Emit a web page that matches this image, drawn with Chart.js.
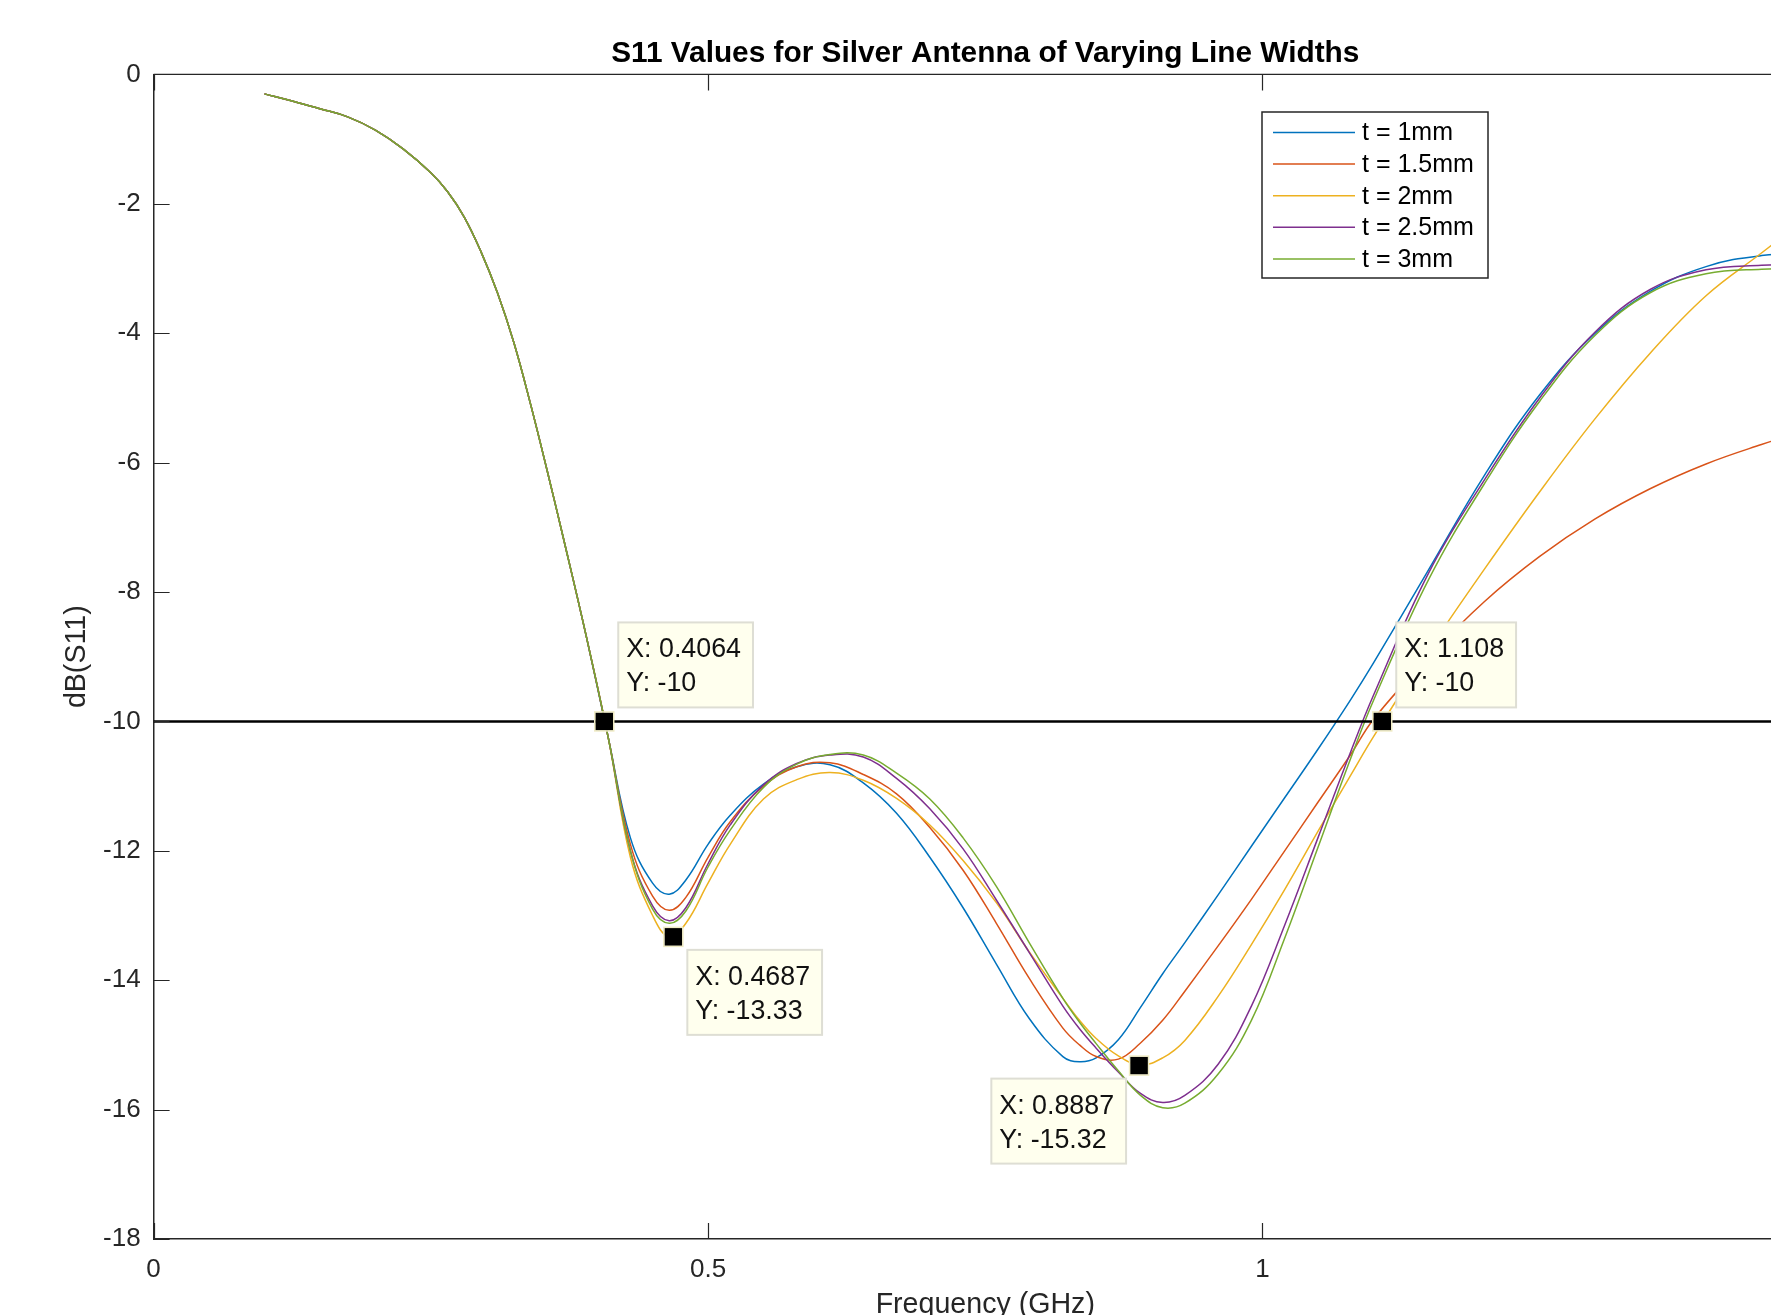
<!DOCTYPE html>
<html>
<head>
<meta charset="utf-8">
<title>S11 Values for Silver Antenna of Varying Line Widths</title>
<script src="https://cdn.jsdelivr.net/npm/chart.js@4.4.0/dist/chart.umd.min.js"></script>
<style>
  html, body { margin: 0; padding: 0; overflow: hidden; background: #fff; }
  #wrap { position: absolute; left: 0; top: 0; width: 1850px; height: 1340px; }
</style>
</head>
<body>
<div id="wrap"><canvas id="s11Chart" width="1850" height="1340"></canvas></div>
<script>
// frequenze (GHz) e valori S11 (dB)
const freq = [0.10, 0.125, 0.15, 0.175, 0.20, 0.225, 0.25, 0.265, 0.28, 0.295,
              0.31, 0.325, 0.34, 0.355, 0.37, 0.39, 0.41,
              0.43, 0.45, 0.465, 0.48, 0.50, 0.52, 0.55, 0.58, 0.61, 0.64,
              0.67, 0.70, 0.73, 0.76, 0.79, 0.82, 0.835, 0.85, 0.87, 0.89,
              0.91, 0.93, 0.96, 0.99, 1.02, 1.05, 1.08, 1.10, 1.15, 1.20,
              1.25, 1.30, 1.35, 1.40, 1.45, 1.50];

const s11_1mm = [-0.30, -0.41, -0.53, -0.655, -0.86, -1.15, -1.52, -1.81, -2.20, -2.73,
                 -3.37, -4.15, -5.10, -6.13, -7.20, -8.67, -10.25,
                 -11.80, -12.50, -12.67, -12.45, -11.90, -11.45, -10.97, -10.70, -10.67, -10.95,
                 -11.42, -12.10, -12.88, -13.75, -14.60, -15.18, -15.26, -15.20, -14.92, -14.42,
                 -13.90, -13.42, -12.68, -11.93, -11.18, -10.43, -9.65, -9.10, -7.65, -6.20,
                 -4.95, -4.00, -3.35, -2.97, -2.80, -2.76];

const s11_1p5mm = [-0.30, -0.41, -0.53, -0.655, -0.86, -1.15, -1.52, -1.81, -2.20, -2.73,
                   -3.37, -4.15, -5.10, -6.13, -7.20, -8.67, -10.25,
                   -11.90, -12.70, -12.92, -12.72, -12.10, -11.55, -11.00, -10.70, -10.64, -10.82,
                   -11.12, -11.64, -12.30, -13.12, -13.98, -14.74, -15.00, -15.18, -15.22, -14.97,
                   -14.62, -14.17, -13.47, -12.75, -12.00, -11.25, -10.50, -9.97, -9.00, -8.15,
                   -7.45, -6.87, -6.40, -6.02, -5.72, -5.45];

const s11_2mm = [-0.30, -0.41, -0.53, -0.655, -0.86, -1.15, -1.52, -1.81, -2.20, -2.73,
                 -3.37, -4.15, -5.10, -6.13, -7.20, -8.67, -10.25,
                 -12.10, -13.00, -13.33, -13.12, -12.50, -11.90, -11.20, -10.90, -10.79, -10.91,
                 -11.19, -11.60, -12.15, -12.80, -13.57, -14.28, -14.62, -14.90, -15.17, -15.31,
                 -15.20, -14.93, -14.25, -13.45, -12.60, -11.70, -10.82, -10.24, -8.90, -7.65,
                 -6.45, -5.32, -4.30, -3.42, -2.76, -2.10];

const s11_2p5mm = [-0.30, -0.41, -0.53, -0.655, -0.86, -1.15, -1.52, -1.81, -2.20, -2.73,
                   -3.37, -4.15, -5.10, -6.13, -7.20, -8.67, -10.25,
                   -12.00, -12.85, -13.08, -12.88, -12.20, -11.60, -10.98, -10.65, -10.52, -10.55,
                   -10.88, -11.35, -11.97, -12.76, -13.58, -14.40, -14.75, -15.05, -15.42, -15.75,
                   -15.89, -15.78, -15.30, -14.40, -13.15, -11.80, -10.45, -9.60, -7.70, -6.27,
                   -5.00, -3.98, -3.32, -3.02, -2.95, -2.93];

const s11_3mm = [-0.30, -0.41, -0.53, -0.655, -0.86, -1.15, -1.52, -1.81, -2.20, -2.73,
                 -3.37, -4.15, -5.10, -6.13, -7.20, -8.67, -10.25,
                 -12.00, -12.90, -13.12, -12.93, -12.25, -11.68, -11.02, -10.66, -10.51, -10.52,
                 -10.80, -11.20, -11.80, -12.55, -13.43, -14.28, -14.65, -14.98, -15.40, -15.78,
                 -15.97, -15.90, -15.45, -14.62, -13.35, -11.95, -10.55, -9.68, -7.80, -6.33,
                 -5.05, -4.03, -3.37, -3.08, -3.01, -3.00];

const seriesLabels = ["t = 1mm", "t = 1.5mm", "t = 2mm", "t = 2.5mm", "t = 3mm"];
const seriesColors = ["#0072BD", "#D95319", "#EDB120", "#7E2F8E", "#77AC30"];
const threshold = -10;

// data tip
const tipX = [0.4064, 0.4687, 0.8887, 1.108];
const tipY = [-10, -13.33, -15.32, -10];
const tipSide = ["ne", "se", "sw", "ne"];

const xTicks = [0, 0.5, 1, 1.5];
const yTicks = [0, -2, -4, -6, -8, -10, -12, -14, -16, -18];

const FONT = '"Liberation Sans", Arial, Helvetica, sans-serif';
const AXIS_COLOR = "#262626";
Chart.defaults.font.family = FONT;
Chart.defaults.color = AXIS_COLOR;

const allSeries = [s11_1mm, s11_1p5mm, s11_2mm, s11_2p5mm, s11_3mm];

const datasets = allSeries.map((values, i) => ({
    label: seriesLabels[i],
    data: freq.map((f, k) => ({ x: f, y: values[k] })),
    borderColor: seriesColors[i],
    backgroundColor: seriesColors[i],
    borderWidth: 1.5,
    pointRadius: 0,
    tension: 0.4,
    order: 10 - i
}));

datasets.push({
    label: "-10 dB",
    data: [{ x: xTicks[0], y: threshold }, { x: xTicks[xTicks.length - 1], y: threshold }],
    borderColor: "#000",
    borderWidth: 2.5,
    pointRadius: 0,
    order: 0
});

// cornice, tacche interne (stile MATLAB)
const framePlugin = {
    id: "frame",
    afterDatasetsDraw(chart) {
        const { ctx, chartArea: a, scales: { x, y } } = chart;
        const len = 16;
        ctx.save();
        ctx.strokeStyle = AXIS_COLOR;
        ctx.lineWidth = 1.5;
        ctx.beginPath();
        ctx.moveTo(a.left, a.top); ctx.lineTo(a.right, a.top);
        ctx.moveTo(a.right, a.top); ctx.lineTo(a.right, a.bottom);
        xTicks.forEach(v => {
            const px = Math.round(x.getPixelForValue(v)) + 0.5;
            ctx.moveTo(px, a.bottom); ctx.lineTo(px, a.bottom - len);
            ctx.moveTo(px, a.top); ctx.lineTo(px, a.top + len);
        });
        yTicks.forEach(v => {
            const py = Math.round(y.getPixelForValue(v)) + 0.5;
            ctx.moveTo(a.left, py); ctx.lineTo(a.left + len, py);
            ctx.moveTo(a.right, py); ctx.lineTo(a.right - len, py);
        });
        ctx.lineWidth = 1.2;
        ctx.stroke();
        ctx.restore();
    }
};

// legenda dentro l'area del grafico
const legendPlugin = {
    id: "boxLegend",
    afterDraw(chart) {
        const ctx = chart.ctx;
        const box = { left: 1262, top: 112, width: 226, height: 166 };
        ctx.save();
        ctx.fillStyle = "#fff";
        ctx.fillRect(box.left, box.top, box.width, box.height);
        ctx.strokeStyle = AXIS_COLOR;
        ctx.lineWidth = 1.5;
        ctx.strokeRect(box.left, box.top, box.width, box.height);
        ctx.font = "25px " + FONT;
        ctx.textBaseline = "middle";
        ctx.textAlign = "left";
        seriesLabels.forEach((label, i) => {
            const yy = box.top + 20.5 + i * 31.6;
            ctx.strokeStyle = seriesColors[i];
            ctx.lineWidth = 1.5;
            ctx.beginPath();
            ctx.moveTo(box.left + 11, yy);
            ctx.lineTo(box.left + 93, yy);
            ctx.stroke();
            ctx.fillStyle = "#000";
            ctx.fillText(label, box.left + 100, yy + 1);
        });
        ctx.restore();
    }
};

// data tip (quadrato nero + riquadro giallo)
const tipPlugin = {
    id: "dataTips",
    afterDraw(chart) {
        const { ctx, scales: { x, y } } = chart;
        ctx.save();
        ctx.font = "26.8px " + FONT;
        ctx.textBaseline = "middle";
        ctx.textAlign = "left";
        tipX.forEach((tx, i) => {
            const px = x.getPixelForValue(tx);
            const py = y.getPixelForValue(tipY[i]);
            const lines = ["X: " + tx, "Y: " + tipY[i]];
            const w = Math.max(...lines.map(l => ctx.measureText(l).width)) + 20;
            const h = 85;
            const side = tipSide[i];
            const bx = side[1] === "e" ? px + 14 : px - 13 - w;
            const by = side[0] === "n" ? py - 14 - h : py + 13;

            ctx.fillStyle = "#FFFFEE";
            ctx.fillRect(bx, by, w, h);
            ctx.strokeStyle = "#DEDED4";
            ctx.lineWidth = 2;
            ctx.strokeRect(bx, by, w, h);
            ctx.fillStyle = "#111";
            ctx.fillText(lines[0], bx + 8, by + 27.5);
            ctx.fillText(lines[1], bx + 8, by + 61.5);

            ctx.fillStyle = "#000";
            ctx.fillRect(px - 9, py - 9, 18, 18);
            ctx.strokeStyle = "#EFEBC4";
            ctx.lineWidth = 1.5;
            ctx.strokeRect(px - 9.5, py - 9.5, 19, 19);
        });
        ctx.restore();
    }
};

const ctx = document.getElementById("s11Chart").getContext("2d");
window.s11Chart = new Chart(ctx, {
    type: "line",
    data: { datasets: datasets },
    options: {
        responsive: false,
        devicePixelRatio: 1,
        animation: false,
        layout: { padding: { left: 0, right: 32, top: 0, bottom: 0 } },
        plugins: {
            legend: { display: false },
            tooltip: { enabled: false },
            title: {
                display: true,
                text: "S11 Values for Silver Antenna of Varying Line Widths",
                fullSize: false,
                color: "#000",
                font: { size: 29.8, weight: "bold", lineHeight: 1.2 },
                padding: { top: 36.3, bottom: 2.4 }
            }
        },
        scales: {
            x: {
                type: "linear",
                min: 0,
                max: 1.5,
                afterBuildTicks: s => { s.ticks = xTicks.map(v => ({ value: v })); },
                afterFit: s => { s.height = 101; },
                grid: { display: false, drawTicks: false },
                border: { display: true, color: AXIS_COLOR, width: 1.5 },
                ticks: {
                    padding: 15, autoSkip: false, maxRotation: 0,
                    font: { size: 26 }, color: AXIS_COLOR,
                    callback: v => String(v)
                },
                title: {
                    display: true,
                    text: "Frequency (GHz)",
                    color: AXIS_COLOR,
                    font: { size: 28.6, lineHeight: 1.2 },
                    padding: { top: 0, bottom: 17.5 }
                }
            },
            y: {
                type: "linear",
                min: -18,
                max: 0,
                afterBuildTicks: s => { s.ticks = yTicks.map(v => ({ value: v })); },
                afterFit: s => { s.width = 153.6; },
                grid: { display: false, drawTicks: false },
                border: { display: true, color: AXIS_COLOR, width: 1.5 },
                ticks: {
                    padding: 13, autoSkip: false,
                    font: { size: 26 }, color: AXIS_COLOR,
                    callback: v => String(v)
                },
                title: {
                    display: true,
                    text: "dB(S11)",
                    color: AXIS_COLOR,
                    font: { size: 28.6, lineHeight: 1.2 },
                    padding: { top: 59.5, bottom: 0 }
                }
            }
        }
    },
    plugins: [framePlugin, legendPlugin, tipPlugin]
});
</script>
</body>
</html>
